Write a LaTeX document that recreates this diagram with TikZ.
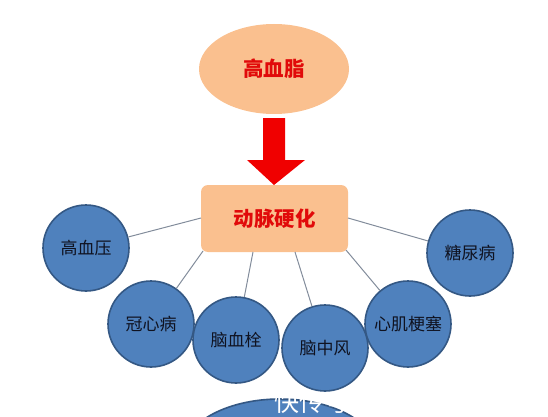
\documentclass[tikz,border=0pt]{standalone}
\usepackage{fontspec}
\newfontfamily\cjk{Noto Sans CJK SC}
\usetikzlibrary{shapes.geometric}
\definecolor{peach}{RGB}{250,192,143}
\definecolor{bfill}{RGB}{79,129,189}
\definecolor{bdraw}{RGB}{52,88,132}
\definecolor{tred}{RGB}{225,10,10}
\definecolor{ared}{RGB}{240,0,0}
\definecolor{lgray}{RGB}{130,140,155}
\definecolor{ctext}{RGB}{15,18,32}
\tikzset{
  disease/.style={circle, fill=bfill, draw=bdraw, line width=1.6pt, minimum size=86pt, inner sep=0pt, font=\cjk\fontsize{17}{17}\selectfont, text=ctext},
  link/.style={draw=lgray, line width=1pt},
  redlabel/.style={font=\cjk\bfseries\fontsize{20.5}{20.5}\selectfont, text=tred}
}
\begin{document}
\begin{tikzpicture}[x=1pt,y=-1pt]
\useasboundingbox (0,0) rectangle (548,417);
\begin{scope}
\clip (0,0) rectangle (548,417);
% bottom partial ellipse
\node[ellipse, fill=bfill, draw=bdraw, line width=1.6pt, minimum width=196pt, minimum height=110pt] (bottom) at (280,454) {};
\node[font=\cjk\fontsize{25}{25}\selectfont, text=white, anchor=north west, inner sep=0pt] (wm) at (274,390) {快传号};
\end{scope}
% top ellipse
\node[ellipse, fill=peach, minimum width=150pt, minimum height=90pt, redlabel] (hyper) at (274,69) {高血脂};
% rectangle
\node[rectangle, rounded corners=7pt, fill=peach, minimum width=147pt, minimum height=67pt, redlabel] (ath) at (274.5,218.5) {动脉硬化};
% arrow
\fill[ared] (263,118) -- (285,118) -- (285,160) -- (305,160) -- (274,185) -- (247,160) -- (263,160) -- cycle;
% diseases
\node[disease] (gxy) at (86,248) {高血压};
\node[disease] (gxb) at (151,324) {冠心病};
\node[disease] (nxs) at (236,340) {脑血栓};
\node[disease] (nzf) at (325,348) {脑中风};
\node[disease] (xjgs) at (408,324) {心肌梗塞};
\node[disease] (tnb) at (470,253) {糖尿病};
% links
\coordinate (p1) at (201,218);
\coordinate (p2) at (203,251);
\coordinate (p3) at (253,252);
\coordinate (p4) at (295,252);
\coordinate (p5) at (346,250);
\coordinate (p6) at (348,218);
\draw[link] (p1) -- (gxy);
\draw[link] (p2) -- (gxb);
\draw[link] (p3) -- (nxs);
\draw[link] (p4) -- (nzf);
\draw[link] (p5) -- (xjgs);
\draw[link] (p6) -- (tnb);
\end{tikzpicture}
\end{document}
